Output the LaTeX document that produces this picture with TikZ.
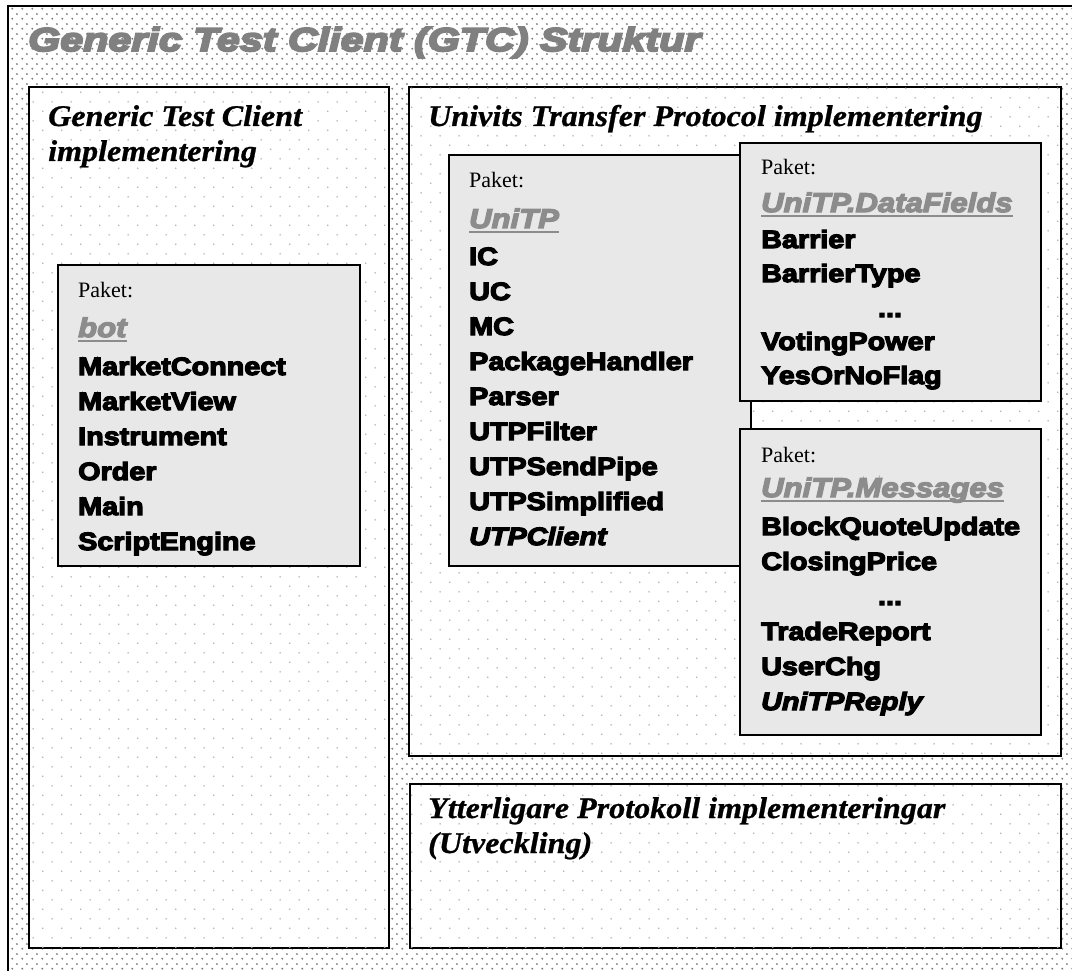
\documentclass[tikz,border=0pt]{standalone}
\usepackage{fontspec}
\usetikzlibrary{patterns}
\setmainfont{Liberation Serif}
\newfontfamily\blk[FakeStretch=1.15,FakeBold=5]{Liberation Sans}
\newfontfamily\ttl[FakeStretch=1.25,FakeBold=6]{Liberation Sans}
\newfontfamily\hdg[FakeStretch=1.07,FakeBold=0.8]{Liberation Serif}
\pgfdeclarepatternformonly{densedots}{\pgfpointorigin}{\pgfpoint{9.6pt}{9.6pt}}{\pgfpoint{9.6pt}{9.6pt}}{%
  \pgfpathcircle{\pgfpoint{2.4pt}{2.4pt}}{1.1pt}%
  \pgfpathcircle{\pgfpoint{7.2pt}{7.2pt}}{1.1pt}%
  \pgfusepath{fill}}
\pgfdeclarepatternformonly{sparsedots}{\pgfpointorigin}{\pgfpoint{19.4pt}{19.4pt}}{\pgfpoint{19.4pt}{19.4pt}}{%
  \pgfpathcircle{\pgfpoint{4.85pt}{4.85pt}}{0.9pt}%
  \pgfpathcircle{\pgfpoint{14.55pt}{14.55pt}}{0.9pt}%
  \pgfusepath{fill}}
\begin{document}
\begin{tikzpicture}[x=1pt,y=-1pt,
  panel/.style={fill=white, draw=black, line width=1.6pt,
    postaction={pattern=sparsedots, pattern color=black!30}},
  pkgbox/.style={fill=black!9, draw=black, line width=1.8pt},
  ttltext/.style={anchor=base west, inner sep=0pt, text=black!50,
    font=\ttl\bfseries\itshape\fontsize{33}{33}\selectfont},
  hdgtext/.style={anchor=base west, inner sep=0pt,
    font=\hdg\bfseries\itshape\fontsize{30}{30}\selectfont},
  paket/.style={anchor=base west, inner sep=0pt, font=\fontsize{22}{22}\selectfont},
  pname/.style={anchor=base west, inner sep=0pt, text=black!45,
    font=\blk\bfseries\itshape\fontsize{27}{27}\selectfont},
  item/.style={anchor=base west, inner sep=0pt,
    font=\blk\bfseries\fontsize{25}{25}\selectfont},
  itemi/.style={item, font=\blk\bfseries\itshape\fontsize{25}{25}\selectfont},
  dots/.style={anchor=base, inner sep=0pt,
    font=\blk\bfseries\fontsize{25}{25}\selectfont},
  uline/.style={draw=black!45, line width=2pt}
]
\useasboundingbox (0,0) rectangle (1072,971);
\clip (0,0) rectangle (1072,971);
\fill[white] (0,0) rectangle (1072,971);
% outer frame
\fill[pattern=densedots, pattern color=black!50] (8,6) rectangle (1080,980);
\draw[line width=1.5pt] (1080,6) -- (8,6) -- (8,980);
\node[ttltext] (title) at (28,51) {Generic Test Client (GTC) Struktur};

% panels
\path[panel] (29,87) rectangle (389,948);
\path[panel] (409,87) rectangle (1061,756);
\path[panel] (410,784) rectangle (1061,948);

\node[hdgtext] (h1a) at (48,126) {Generic Test Client};
\node[hdgtext] (h1b) at (48,161) {implementering};
\node[hdgtext] (h2) at (428,126) {Univits Transfer Protocol implementering};
\node[hdgtext] (h3a) at (428,818) {Ytterligare Protokoll implementeringar};
\node[hdgtext] (h3b) at (428,853) {(Utveckling)};

% package bot
\path[pkgbox] (58,265) rectangle (360,566);
\node[paket] (pbot) at (78,298) {Paket:};
\node[pname] (nbot) at (78,337) {bot};
\draw[uline] ([yshift=-4pt]nbot.base west) -- ([yshift=-4pt]nbot.base east);
\node[item] (b1) at (78,375) {MarketConnect};
\node[item] (b2) at (78,410) {MarketView};
\node[item] (b3) at (78,445) {Instrument};
\node[item] (b4) at (78,480) {Order};
\node[item] (b5) at (78,515) {Main};
\node[item] (b6) at (78,550) {ScriptEngine};

% package UniTP
\path[pkgbox] (449,155) rectangle (751,566);
\node[paket] (putp) at (469,188) {Paket:};
\node[pname] (nutp) at (469,228) {UniTP};
\draw[uline] ([yshift=-4pt]nutp.base west) -- ([yshift=-4pt]nutp.base east);
\node[item] (u1) at (469,265) {IC};
\node[item] (u2) at (469,300) {UC};
\node[item] (u3) at (469,335) {MC};
\node[item] (u4) at (469,370) {PackageHandler};
\node[item] (u5) at (469,405) {Parser};
\node[item] (u6) at (469,440) {UTPFilter};
\node[item] (u7) at (469,475) {UTPSendPipe};
\node[item] (u8) at (469,510) {UTPSimplified};
\node[itemi] (u9) at (469,545) {UTPClient};

% package UniTP.DataFields
\path[pkgbox] (740,143) rectangle (1041,401);
\node[paket] (pdf) at (761,175) {Paket:};
\node[pname] (ndf) at (761,212) {UniTP.DataFields};
\draw[uline] ([yshift=-4pt]ndf.base west) -- ([yshift=-4pt]ndf.base east);
\node[item] (d1) at (761,248) {Barrier};
\node[item] (d2) at (761,282) {BarrierType};
\node[dots] (d3) at (890,317) {...};
\node[item] (d4) at (761,350) {VotingPower};
\node[item] (d5) at (761,384) {YesOrNoFlag};

% package UniTP.Messages
\path[pkgbox] (740,429) rectangle (1041,735);
\node[paket] (pm) at (761,462) {Paket:};
\node[pname] (nm) at (761,497) {UniTP.Messages};
\draw[uline] ([yshift=-4pt]nm.base west) -- ([yshift=-4pt]nm.base east);
\node[item] (m1) at (761,535) {BlockQuoteUpdate};
\node[item] (m2) at (761,570) {ClosingPrice};
\node[dots] (m3) at (890,605) {...};
\node[item] (m4) at (761,640) {TradeReport};
\node[item] (m5) at (761,675) {UserChg};
\node[itemi] (m6) at (761,710) {UniTPReply};
\end{tikzpicture}
\end{document}
